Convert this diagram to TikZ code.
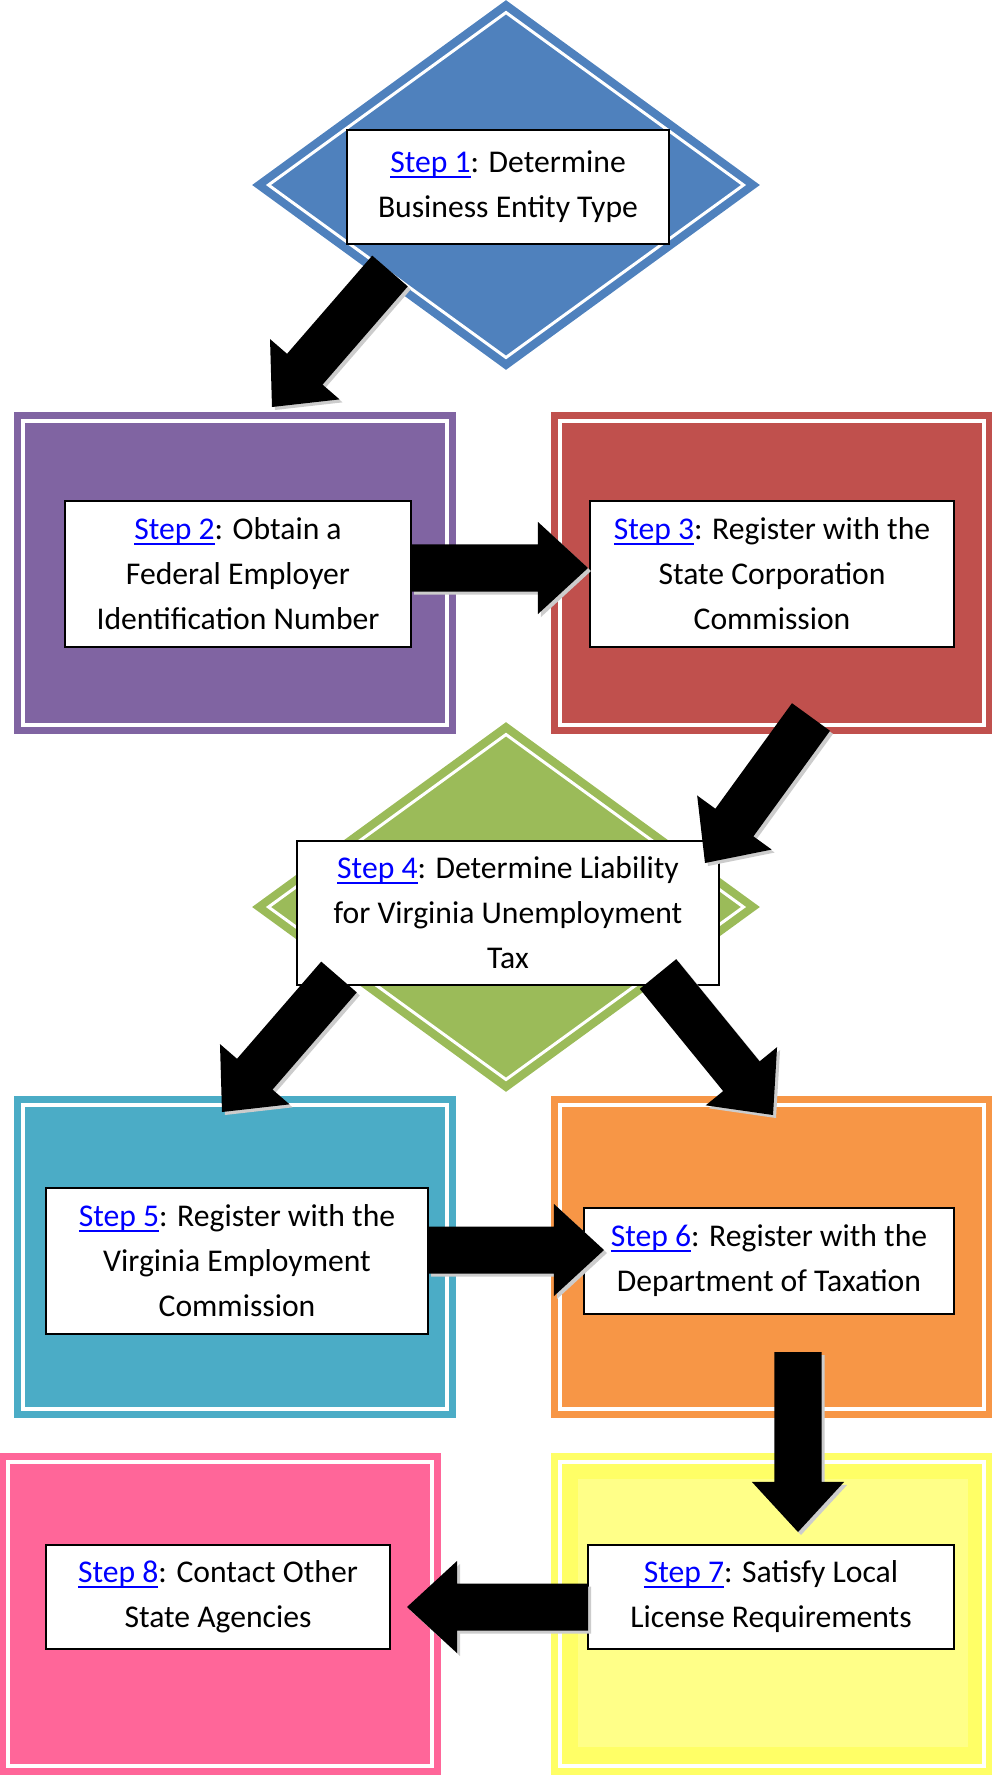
\documentclass[tikz,border=0pt]{standalone}
\usepackage{fontspec}
\setmainfont{Carlito}
\usetikzlibrary{shapes.geometric,calc}

\definecolor{diaBlue}{HTML}{4F81BD}
\definecolor{diaGreen}{HTML}{9BBB59}
\definecolor{panPurple}{HTML}{8064A2}
\definecolor{panRed}{HTML}{C0504D}
\definecolor{panTeal}{HTML}{4BACC6}
\definecolor{panOrange}{HTML}{F79646}
\definecolor{panPink}{HTML}{FF6699}
\definecolor{panYellow}{HTML}{FFFF66}
\definecolor{panYellowIn}{HTML}{FFFF88}
\definecolor{linkBlue}{HTML}{0000FF}

% 蓝色链接文字 + 贴近基线的下划线
\newcommand{\steplink}[1]{\textcolor{linkBlue}{\setbox0\hbox{Step #1}\rlap{\rule[-1.4pt]{\wd0}{0.6pt}}\box0}}
% 粗箭头轮廓 (\t = 尾, \p = 尖, hb = 箭头底)
\newcommand{\blockpath}{($(\t)!0.235cm!90:(\p)$) -- ($(hb)!0.235cm!90:(\p)$) -- ($(hb)!0.46cm!90:(\p)$) -- (\p) -- ($(hb)!0.46cm!-90:(\p)$) -- ($(hb)!0.235cm!-90:(\p)$) -- ($(\t)!0.235cm!-90:(\p)$) -- cycle}

\begin{document}
\begin{tikzpicture}[x=0.01cm, y=-0.01cm]
    % --- 样式定义 ---
    \tikzstyle{panel}=[rectangle, inner sep=0, minimum width=4.41cm, minimum height=3.21cm]
    \tikzstyle{whiteline}=[white, line width=0.04cm]
    \tikzstyle{diabox}=[diamond, inner sep=0, minimum width=5.08cm, minimum height=3.70cm]
    \tikzstyle{diainner}=[diamond, inner sep=0, draw=white, line width=0.03cm, minimum width=4.76cm, minimum height=3.46cm]
    \tikzstyle{stepbox}=[draw=black, fill=white, line width=0.02cm, align=center, inner sep=0, font=\fontsize{9}{12.8}\selectfont]

    \useasboundingbox (0,0) rectangle (992,1775);

    % ====== 菱形 (Diamonds) ======
    \node[diabox, fill=diaBlue] (d1) at (506,185) {};
    \node[diainner] at (d1) {};
    \node[diabox, fill=diaGreen] (d4) at (506,907) {};
    \node[diainner] at (d4) {};

    % ====== 色块 (Panels) ======
    \foreach \n/\x/\y/\c in {p2/235/573/panPurple, p3/772/573/panRed,
                             p5/235/1257/panTeal, p6/772/1257/panOrange,
                             p8/220/1614/panPink, p7/772/1614/panYellow}{
        \node[panel, fill=\c] (\n) at (\x,\y) {};
        \draw[whiteline] ($(\n.north west)+(9,9)$) rectangle ($(\n.south east)+(-9,-9)$);
    }
    % 黄色块内层
    \fill[panYellowIn] ($(p7.north west)+(27,26)$) rectangle ($(p7.south east)+(-25,-28)$);

    % ====== 步骤文字框 (Steps) ======
    \node[stepbox, minimum width=3.22cm, minimum height=1.14cm] (s1) at (508,187)
        {\steplink{1}: Determine\\Business Entity Type};
    \node[stepbox, minimum width=3.45cm, minimum height=1.45cm] (s2) at (238,574)
        {\steplink{2}: Obtain a\\Federal Employer\\Identification Number};
    \node[stepbox, minimum width=3.64cm, minimum height=1.45cm] (s3) at (772,574)
        {\steplink{3}: Register with the\\State Corporation\\Commission};
    \node[stepbox, minimum width=4.22cm, minimum height=1.43cm] (s4) at (508,913)
        {\steplink{4}: Determine Liability\\for Virginia Unemployment\\Tax};
    \node[stepbox, minimum width=3.82cm, minimum height=1.46cm] (s5) at (237,1261)
        {\steplink{5}: Register with the\\Virginia Employment\\Commission};
    \node[stepbox, minimum width=3.70cm, minimum height=1.06cm] (s6) at (769,1261)
        {\steplink{6}: Register with the\\Department of Taxation};
    \node[stepbox, minimum width=3.66cm, minimum height=1.03cm] (s7) at (771,1597)
        {\steplink{7}: Satisfy Local\\License Requirements};
    \node[stepbox, minimum width=3.44cm, minimum height=1.03cm] (s8) at (218,1597)
        {\steplink{8}: Contact Other\\State Agencies};

    % ====== 箭头端点 (Arrow ends) ======
    \coordinate (t1) at (390,271);  \coordinate (h1) at (272,407);
    \coordinate (t2) at (411,568);  \coordinate (h2) at (588,568);
    \coordinate (t3) at (811,717);  \coordinate (h3) at (705,863);
    \coordinate (t4) at (339,977);  \coordinate (h4) at (222,1112);
    \coordinate (t5) at (658,974);  \coordinate (h5) at (773,1115);
    \coordinate (t6) at (428,1250); \coordinate (h6) at (604,1250);
    \coordinate (t7) at (798,1352); \coordinate (h7) at (798,1532);
    \coordinate (t8) at (588,1607); \coordinate (h8) at (407,1607);

    % ====== 粗箭头 + 阴影 (Block arrows) ======
    \foreach \t/\p in {t1/h1, t2/h2, t3/h3, t4/h4, t5/h5, t6/h6, t7/h7, t8/h8}{
        \coordinate (hb) at ($(\p)!0.5cm!(\t)$);
        \begin{scope}[transform canvas={shift={(0.03cm,-0.03cm)}}]
            \fill[gray!40] \blockpath;
        \end{scope}
        \fill[black] \blockpath;
    }

\end{tikzpicture}
\end{document}
